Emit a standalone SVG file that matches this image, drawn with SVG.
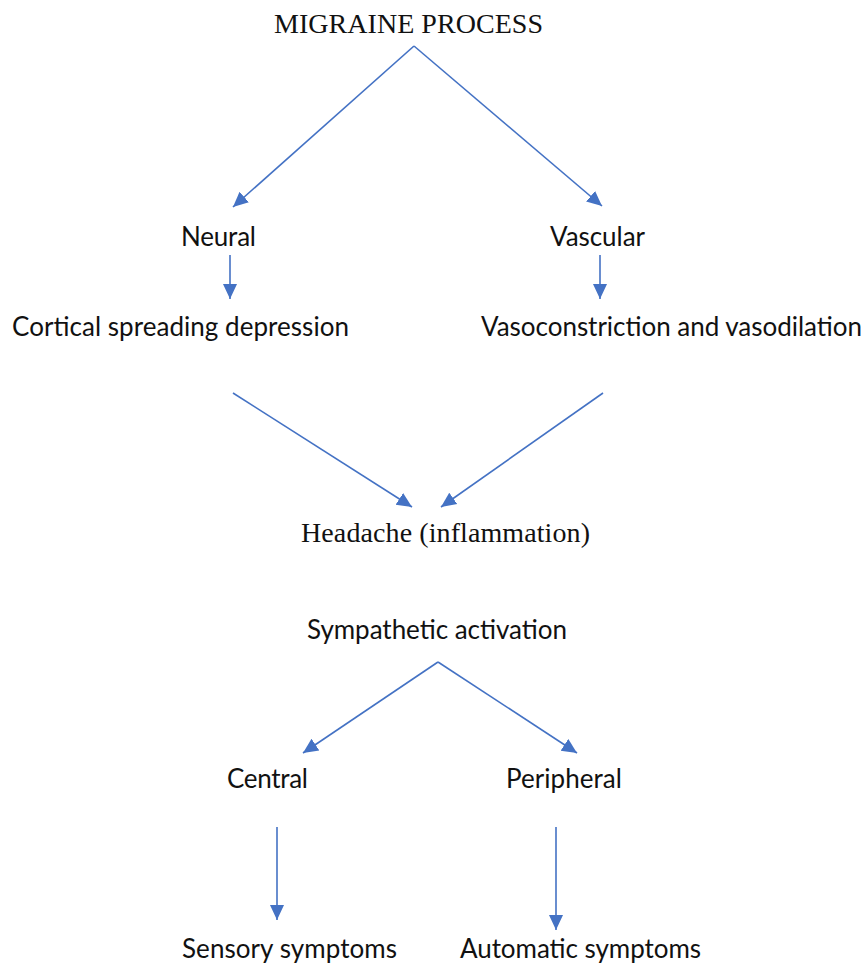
<svg xmlns="http://www.w3.org/2000/svg" width="867" height="964" viewBox="0 0 867 964">
<style>
.serif{font-family:"Liberation Serif","Times New Roman",serif;font-size:28px;fill:#111}
.sans{font-family:Lato,"Open Sans","Liberation Sans",sans-serif;font-size:26px;fill:#111}
.conn line{stroke:#4472C4;stroke-width:1.6;fill:none;marker-end:url(#ah)}
</style>
<defs>
<marker id="ah" markerUnits="userSpaceOnUse" markerWidth="16" markerHeight="16" viewBox="0 0 16 16" refX="15" refY="8" orient="auto">
<path d="M0,1 L15,8 L0,15 Z" fill="#4472C4"/>
</marker>
</defs>
<rect width="867" height="964" fill="#fff"/>
<g id="n-migraine"><text class="serif" x="274" y="33" textLength="269">MIGRAINE PROCESS</text></g>
<g id="n-neural"><text class="sans" x="181" y="246" textLength="75">Neural</text></g>
<g id="n-vascular"><text class="sans" x="550" y="246" textLength="95">Vascular</text></g>
<g id="n-cortical"><text class="sans" x="12" y="336" textLength="337">Cortical spreading depression</text></g>
<g id="n-vaso"><text class="sans" x="481" y="336" textLength="381">Vasoconstriction and vasodilation</text></g>
<g id="n-headache"><text class="serif" x="301" y="542" textLength="289">Headache (inflammation)</text></g>
<g id="n-sympathetic"><text class="sans" x="307" y="639" textLength="260">Sympathetic activation</text></g>
<g id="n-central"><text class="sans" x="227" y="788" textLength="81">Central</text></g>
<g id="n-peripheral"><text class="sans" x="506" y="788" textLength="116">Peripheral</text></g>
<g id="n-sensory"><text class="sans" x="182" y="958" textLength="215">Sensory symptoms</text></g>
<g id="n-automatic"><text class="sans" x="460" y="958" textLength="241">Automatic symptoms</text></g>
<g id="connectors" class="conn">
<line x1="414" y1="46" x2="233" y2="207"/>
<line x1="414" y1="46" x2="602" y2="206"/>
<line x1="230" y1="255" x2="230" y2="299"/>
<line x1="600" y1="255" x2="600" y2="299"/>
<line x1="233" y1="393" x2="412" y2="507"/>
<line x1="603" y1="393" x2="441" y2="507"/>
<line x1="438" y1="662" x2="303" y2="753"/>
<line x1="438" y1="662" x2="577" y2="753"/>
<line x1="277" y1="827" x2="277" y2="920"/>
<line x1="556" y1="827" x2="556" y2="930"/>
</g>
</svg>
